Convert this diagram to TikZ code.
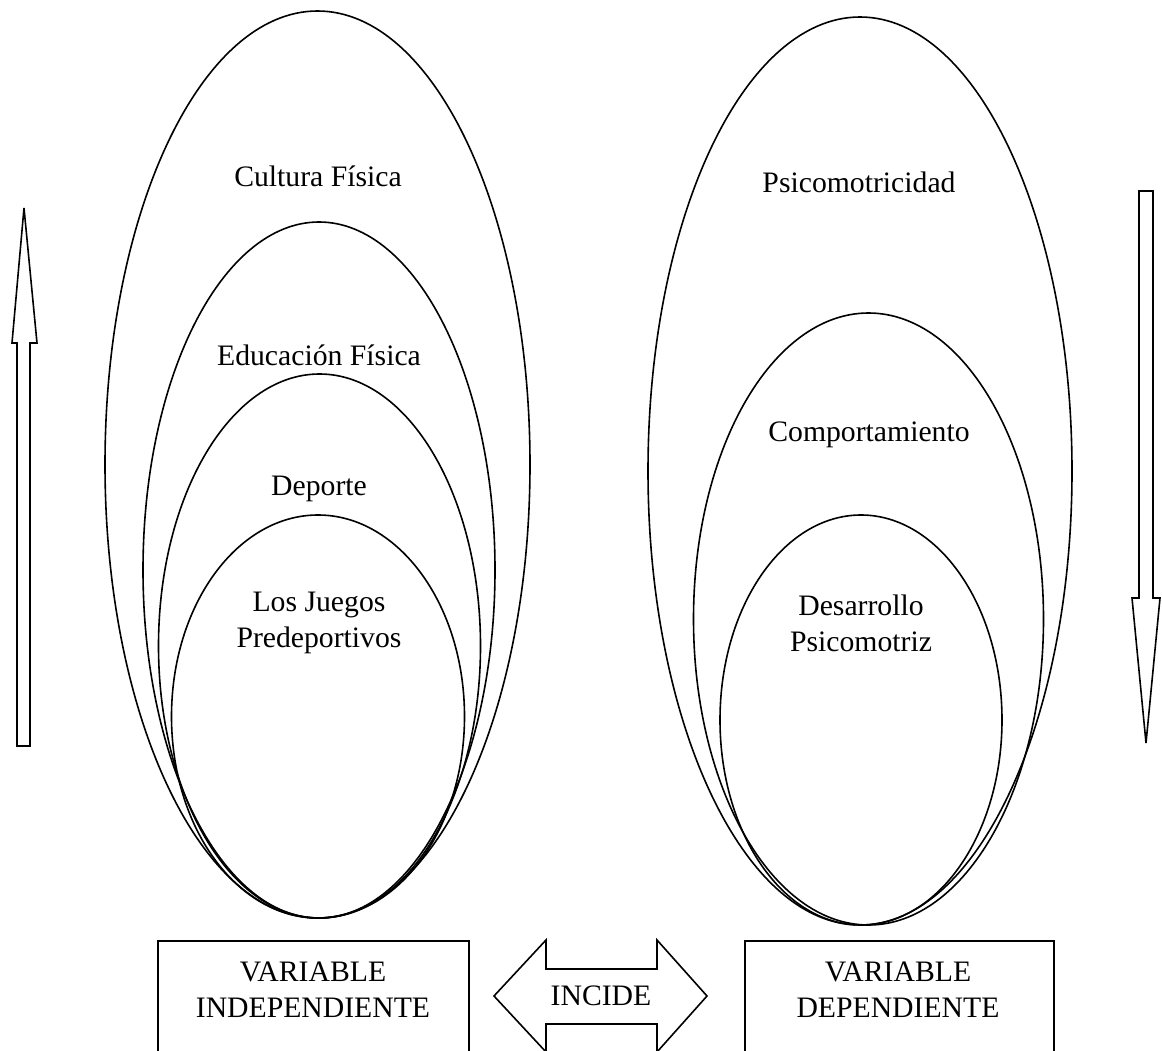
\documentclass[tikz,border=0pt]{standalone}
\usepackage{fontspec}
\setmainfont{Liberation Serif}
\usetikzlibrary{shapes.geometric}
\begin{document}
\begin{tikzpicture}[x=1pt,y=-1pt,
  ring/.style={draw,line width=1.6pt,ellipse,inner sep=0pt,outer sep=0pt},
  lbl/.style={font=\fontsize{29.7}{36}\selectfont,align=center,inner sep=0pt},
  outline/.style={draw,line width=1.6pt,line join=miter,fill=white}]
\useasboundingbox (0,0) rectangle (1162,1051);
\clip (0,0) rectangle (1162,1051);

% independent variable: nested ellipses
\node[ring,minimum width=425pt,minimum height=907pt] (cultura) at (317.5,464.5) {};
\node[ring,minimum width=352pt,minimum height=696pt] (educacion) at (319,570) {};
\node[ring,minimum width=322pt,minimum height=544pt] (deporte) at (319.5,646) {};
\node[ring,minimum width=293pt,minimum height=403pt] (juegos) at (318,716.5) {};

% dependent variable: nested ellipses
\node[ring,minimum width=424pt,minimum height=908pt] (psico) at (860,471) {};
\node[ring,minimum width=350pt,minimum height=612pt] (comport) at (868.5,619) {};
\node[ring,minimum width=282pt,minimum height=410pt] (desarrollo) at (861,720) {};

% labels inside the ellipses
\node[lbl] (tcultura) at (318,176) {Cultura Física};
\node[lbl] (teducacion) at (319,355) {Educación Física};
\node[lbl] (tdeporte) at (319,489) {Deporte};
\node[lbl] (tjuegos) at (319,623) {Los Juegos\\Predeportivos};
\node[lbl] (tpsico) at (859,182) {Psicomotricidad};
\node[lbl] (tcomport) at (869,435) {Comportamiento};
\node[lbl] (tdesarrollo) at (861,623) {Desarrollo\\Psicomotriz};

% upward arrow on the left
\draw[outline] (17,746) -- (17,343) -- (12,343) -- (24,208) -- (37,343) -- (30,343) -- (30,746) -- cycle;
% downward arrow on the right
\draw[outline] (1139,191) -- (1153,191) -- (1153,598) -- (1160,598) -- (1146,743) -- (1132,598) -- (1139,598) -- cycle;

% bottom boxes
\node[draw,line width=1.6pt,minimum width=311pt,minimum height=140pt,anchor=north west,inner sep=0pt] (vind) at (157,940) {};
\node[draw,line width=1.6pt,minimum width=309pt,minimum height=140pt,anchor=north west,inner sep=0pt] (vdep) at (744,940) {};
\node[lbl] (tvind) at (313,990) {VARIABLE\\INDEPENDIENTE};
\node[lbl] (tvdep) at (898,990) {VARIABLE\\DEPENDIENTE};

% double arrow between the boxes
\draw[outline] (494,996) -- (546,940) -- (546,969) -- (657,969) -- (657,940) -- (707,996)
  -- (657,1052) -- (657,1024) -- (546,1024) -- (546,1052) -- cycle;
\node[lbl] (tincide) at (601,996) {INCIDE};
\end{tikzpicture}
\end{document}
